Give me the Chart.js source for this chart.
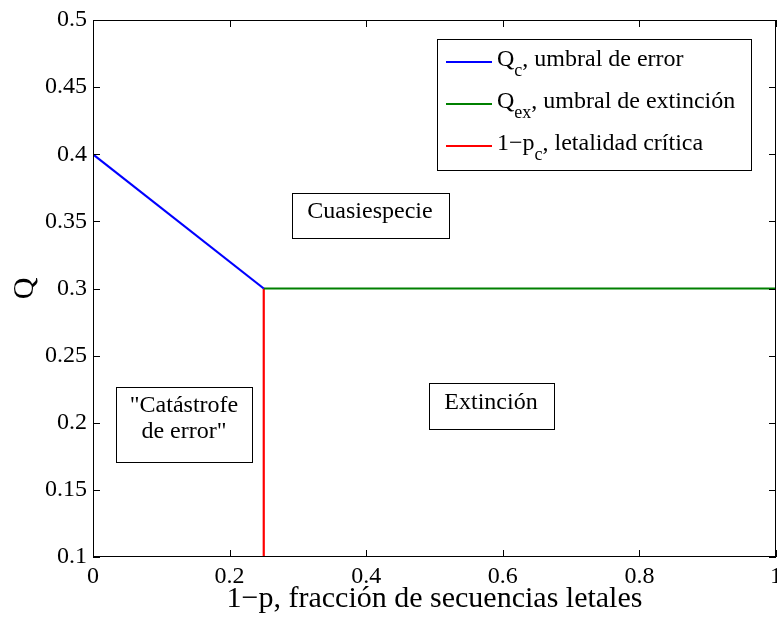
<!DOCTYPE html>
<html>
<head>
<meta charset="utf-8">
<script src="https://cdn.jsdelivr.net/npm/chart.js@4/dist/chart.umd.min.js"></script>
<style>
  html, body { margin: 0; padding: 0; background: #fff; }
  canvas { display: block; }
</style>
</head>
<body>
<canvas id="c" width="777" height="617"></canvas>
<script>
// Q_c, error threshold
const xErr = [0, 0.25];
const qErr = [0.4, 0.3];
// Q_ex, extinction threshold
const xExt = [0.25, 1];
const qExt = [0.3, 0.3];
// 1-p_c, critical lethality
const xLet = [0.25, 0.25];
const qLet = [0.1, 0.3];

const xTicks = [0, 0.2, 0.4, 0.6, 0.8, 1];
const yTicks = [0.1, 0.15, 0.2, 0.25, 0.3, 0.35, 0.4, 0.45, 0.5];

const SERIF = "'Liberation Serif', 'Times New Roman', serif";
const fmt = (v) => String(parseFloat(Number(v).toFixed(2)));
const pts = (xs, ys) => xs.map((x, i) => ({ x, y: ys[i] }));

function line(label, data, color) {
  return {
    label,
    data,
    borderColor: color,
    backgroundColor: color,
    borderWidth: 2.2,
    showLine: true,
    pointRadius: 0,
    tension: 0,
  };
}

// Box frame + inward ticks on all four sides (MATLAB style)
const frame = {
  id: "frame",
  afterDatasetsDraw(chart) {
    const { ctx, chartArea: a, scales: { x, y } } = chart;
    const L = 7;
    ctx.save();
    ctx.strokeStyle = "#000";
    ctx.lineWidth = 1;
    ctx.beginPath();
    xTicks.forEach((v) => {
      const px = Math.round(x.getPixelForValue(v)) + 0.5;
      ctx.moveTo(px, a.bottom); ctx.lineTo(px, a.bottom - L);
      ctx.moveTo(px, a.top); ctx.lineTo(px, a.top + L);
    });
    yTicks.forEach((v) => {
      const py = Math.round(y.getPixelForValue(v)) + 0.5;
      ctx.moveTo(a.left, py); ctx.lineTo(a.left + L, py);
      ctx.moveTo(a.right, py); ctx.lineTo(a.right - L, py);
    });
    ctx.stroke();
    ctx.strokeRect(Math.round(a.left) + 0.5, Math.round(a.top) + 0.5,
      Math.round(a.width) - 1, Math.round(a.height) - 1);
    ctx.restore();
  },
};

// text with subscript parts: [[text, isSub], ...]
function richText(ctx, parts, x, y) {
  let cx = x;
  parts.forEach(([t, sub]) => {
    ctx.font = (sub ? "18px " : "24px ") + SERIF;
    ctx.fillText(t, cx, sub ? y + 10 : y);
    cx += ctx.measureText(t).width;
  });
}

function box(ctx, l, t, r, b) {
  ctx.fillStyle = "#fff";
  ctx.fillRect(l, t, r - l, b - t);
  ctx.strokeStyle = "#000";
  ctx.lineWidth = 1;
  ctx.strokeRect(l + 0.5, t + 0.5, r - l, b - t);
}

const notes = {
  id: "notes",
  afterDraw(chart) {
    const { ctx } = chart;
    ctx.save();
    ctx.textBaseline = "alphabetic";

    // legend
    box(ctx, 437, 39, 751, 170);
    const rows = [
      [62, [["Q"], ["c", true], [", umbral de error"]]],
      [104, [["Q"], ["ex", true], [", umbral de extinción"]]],
      [146, [["1−p"], ["c", true], [", letalidad crítica"]]],
    ];
    rows.forEach(([ry, parts], i) => {
      ctx.strokeStyle = chart.data.datasets[i].borderColor;
      ctx.lineWidth = 2;
      ctx.beginPath();
      ctx.moveTo(446, ry); ctx.lineTo(492, ry);
      ctx.stroke();
      ctx.fillStyle = "#000";
      ctx.textAlign = "left";
      richText(ctx, parts, 497, ry + 4);
    });

    // region labels
    ctx.font = "24px " + SERIF;
    ctx.textAlign = "center";
    box(ctx, 292, 193, 449, 238);
    ctx.fillStyle = "#000";
    ctx.fillText("Cuasiespecie", 370, 218);

    box(ctx, 429, 383, 554, 429);
    ctx.fillStyle = "#000";
    ctx.fillText("Extinción", 491, 409);

    box(ctx, 116, 387, 252, 462);
    ctx.fillStyle = "#000";
    ctx.fillText("\"Catástrofe", 184, 412);
    ctx.fillText("de error\"", 184, 438);
    ctx.restore();
  },
};

const bg = {
  id: "bg",
  beforeDraw(chart) {
    const { ctx, width, height } = chart;
    ctx.save();
    ctx.fillStyle = "#fff";
    ctx.fillRect(0, 0, width, height);
    ctx.restore();
  },
};

new Chart(document.getElementById("c"), {
  type: "scatter",
  data: {
    datasets: [
      line("Qc, umbral de error", pts(xErr, qErr), "#0000ff"),
      line("Qex, umbral de extinción", pts(xExt, qExt), "#008000"),
      line("1−pc, letalidad crítica", pts(xLet, qLet), "#ff0000"),
    ],
  },
  options: {
    responsive: false,
    animation: false,
    layout: { padding: { left: 0, top: 20, right: 1, bottom: 0 } },
    plugins: { legend: { display: false }, tooltip: { enabled: false } },
    scales: {
      x: {
        type: "linear",
        min: 0,
        max: 1,
        afterBuildTicks: (s) => { s.ticks = xTicks.map((v) => ({ value: v })); },
        afterFit: (s) => { s.height = 60; s.paddingLeft = 0; s.paddingRight = 0; },
        grid: { display: false, drawTicks: false },
        border: { display: false },
        ticks: {
          color: "#000",
          font: { family: SERIF, size: 24 },
          padding: 5,
          maxRotation: 0,
          autoSkip: false,
          callback: fmt,
        },
        title: {
          display: true,
          text: "1−p, fracción de secuencias letales",
          color: "#000",
          font: { family: SERIF, size: 30 },
          padding: { top: 0, bottom: 0 },
        },
      },
      y: {
        type: "linear",
        min: 0.1,
        max: 0.5,
        afterBuildTicks: (s) => { s.ticks = yTicks.map((v) => ({ value: v })); },
        afterFit: (s) => { s.width = 93; s.paddingTop = 0; s.paddingBottom = 0; },
        grid: { display: false, drawTicks: false },
        border: { display: false },
        ticks: {
          color: "#000",
          font: { family: SERIF, size: 24 },
          padding: 6,
          autoSkip: false,
          callback: fmt,
        },
        title: {
          display: true,
          text: "Q",
          color: "#000",
          font: { family: SERIF, size: 30 },
          padding: { top: 7, bottom: 0 },
        },
      },
    },
  },
  plugins: [bg, frame, notes],
});
</script>
</body>
</html>
